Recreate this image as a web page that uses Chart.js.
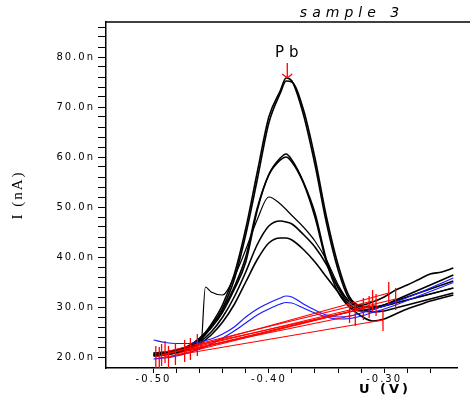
<!DOCTYPE html>
<html>
<head>
<meta charset="utf-8">
<script src="https://cdn.jsdelivr.net/npm/chart.js@4.4.0/dist/chart.umd.min.js"></script>
<style>
  html, body { margin: 0; padding: 0; background: #fff; }
  #wrap { width: 470px; height: 401px; }
</style>
</head>
<body>
<div id="wrap"><canvas id="chart" width="470" height="401"></canvas></div>
<script>
// potential grid (V) shared by the scans
const volts = [-0.50, -0.49, -0.48, -0.47, -0.46, -0.45, -0.44, -0.43, -0.42, -0.41, -0.40, -0.39, -0.385,
               -0.38, -0.37, -0.36, -0.35, -0.34, -0.33, -0.32, -0.31, -0.30, -0.29, -0.28, -0.27, -0.26, -0.25, -0.24];

// black scans (nA)
const scanA = [20.3, 20.5, 21.0, 21.8, 23.5, 26.5, 30.5, 36.5, 45.7, 57.0, 68.0, 73.3, 75.8,
               75.2, 68.5, 58.5, 46.8, 37.5, 31.5, 30.4, 31.0, 32.0, 33.4, 34.4, 35.5, 36.6, 37.0, 37.8];
const scanB = [20.5, 20.7, 21.2, 22.0, 23.3, 26.0, 29.8, 35.5, 44.5, 55.5, 66.8, 72.8, 75.2,
               75.0, 69.5, 59.8, 48.0, 38.5, 32.0, 30.2, 30.0, 30.4, 31.2, 32.0, 32.8, 33.6, 34.4, 35.2];
const scanC = [20.6, 20.8, 21.3, 22.0, 23.5, 25.8, 29.0, 33.5, 39.0, 49.4, 56.5, 59.8, 60.6,
               59.4, 55.0, 48.8, 39.4, 33.8, 30.5, 29.4, 29.6, 30.2, 30.8, 31.4, 32.0, 32.6, 33.2, 33.8];
const scanD = [20.8, 21.0, 21.4, 22.2, 23.8, 26.2, 29.5, 34.0, 40.0, 49.8, 56.4, 59.4, 60.0,
               59.0, 54.8, 48.0, 39.0, 33.0, 30.0, 29.2, 29.6, 30.4, 31.4, 32.4, 33.4, 34.4, 35.4, 36.4];
const scanF = [20.4, 20.6, 21.0, 21.8, 23.0, 25.0, 28.0, 32.0, 37.0, 42.5, 46.2, 47.2, 47.0,
               46.6, 44.5, 42.0, 38.5, 34.0, 31.0, 29.5, 29.0, 29.2, 29.8, 30.4, 31.0, 31.6, 32.2, 32.8];
const scanG = [20.2, 20.4, 20.8, 21.5, 22.6, 24.4, 27.0, 30.5, 35.0, 39.5, 42.8, 43.8, 43.8,
               43.4, 41.5, 39.0, 36.0, 33.0, 30.0, 28.2, 27.2, 27.6, 28.6, 29.6, 30.4, 31.2, 31.8, 32.4];

// scan with the step near -0.46 V has its own grid
const jumpVolts = [-0.50, -0.49, -0.48, -0.47, -0.459, -0.455, -0.45, -0.44, -0.43, -0.42, -0.41, -0.40, -0.39,
                   -0.38, -0.37, -0.36, -0.35, -0.34, -0.33, -0.32, -0.31, -0.30, -0.29, -0.28, -0.27, -0.26, -0.25, -0.24];
const jumpScan = [20.8, 20.8, 21.0, 21.4, 22.0, 34.0, 33.0, 32.4, 36.0, 41.5, 47.5, 52.0, 50.6,
                  48.3, 46.0, 43.2, 39.4, 34.5, 31.0, 30.0, 29.8, 30.2, 30.8, 31.4, 32.0, 32.6, 33.2, 33.8];

// blue scans (nA)
const blueA = [23.4, 22.9, 22.7, 22.7, 23.0, 23.6, 24.6, 26.0, 28.0, 29.6, 30.8, 31.8, 32.2,
               32.0, 30.6, 29.4, 28.4, 28.0, 28.2, 28.8, 29.5, 30.2, 31.0, 31.9, 32.8, 33.8, 34.8, 35.8];
const blueB = [19.6, 19.8, 20.2, 20.8, 21.6, 22.6, 23.8, 25.2, 26.8, 28.4, 29.6, 30.6, 30.9,
               30.8, 29.8, 28.8, 28.0, 27.6, 27.7, 28.2, 28.9, 29.6, 30.4, 31.3, 32.2, 33.1, 34.0, 34.9];

// red baselines: start / end points
const baseStartV = [-0.498, -0.493, -0.481, -0.487, -0.473, -0.468, -0.495, -0.462, -0.490];
const baseStartI = [20.0, 20.4, 20.6, 20.0, 21.2, 21.6, 19.8, 22.4, 21.0];
const baseEndV = [-0.296, -0.290, -0.307, -0.313, -0.330, -0.325, -0.301, -0.318, -0.310];
const baseEndI = [32.8, 31.6, 30.4, 30.0, 29.0, 28.4, 27.4, 29.6, 31.2];

// Pb peak marker
const pbPeak = { x: -0.384, y: 75.8 };

// ticks
const xMajor = [-0.50, -0.40, -0.30];
const yMajor = [20, 30, 40, 50, 60, 70, 80];

const stepTicks = (from, to, step) => {
    const out = [];
    for (let v = from; v <= to + 1e-9; v += step) out.push({ value: +v.toFixed(4) });
    return out;
};
const isMajor = (list, v) => list.some(m => Math.abs(m - v) < 1e-6);

const toPoints = (xs, ys) => xs.map((x, i) => ({ x: x, y: ys[i] }));

const scanLine = (xs, ys, color, width, order) => ({
    data: toPoints(xs, ys),
    borderColor: color,
    borderWidth: width,
    pointRadius: 0,
    cubicInterpolationMode: 'monotone',
    order: order
});

const datasets = [];
[scanA, scanB, scanC, scanD, scanF, scanG].forEach(ys => datasets.push(scanLine(volts, ys, '#000', 1.6, 2)));
datasets.push(scanLine(jumpVolts, jumpScan, '#000', 1.2, 2));
datasets.push(scanLine(volts, blueA, '#1a1aff', 1.2, 1));
datasets.push(scanLine(volts, blueB, '#1a1aff', 1.2, 1));
baseStartV.forEach((v, i) => {
    datasets.push({
        data: [{ x: v, y: baseStartI[i] }, { x: baseEndV[i], y: baseEndI[i] }],
        borderColor: '#ff0000',
        borderWidth: 1.2,
        pointStyle: 'line',
        pointRotation: 90,
        pointRadius: 11,
        pointBorderColor: '#ff0000',
        pointBorderWidth: 1.3,
        order: 0
    });
});

// extra text: title, x title, Pb arrow, letter spacing for tick labels
const decorations = {
    id: 'decorations',
    beforeDraw(chart) {
        chart.ctx.letterSpacing = '2px';
    },
    afterDraw(chart) {
        const { ctx, chartArea, scales } = chart;
        ctx.save();
        // top frame line
        ctx.strokeStyle = '#000';
        ctx.lineWidth = 1.5;
        ctx.beginPath();
        ctx.moveTo(chartArea.left, chartArea.top);
        ctx.lineTo(chart.width, chartArea.top);
        ctx.stroke();

        ctx.fillStyle = '#000';
        ctx.textAlign = 'center';
        ctx.textBaseline = 'middle';
        ctx.letterSpacing = '5px';
        ctx.font = 'italic 14px "DejaVu Sans"';
        ctx.fillText('sample 3', 352, 13);

        ctx.letterSpacing = '3px';
        ctx.font = 'bold 13px "DejaVu Sans"';
        ctx.fillText('U (V)', 385, 390);

        // Pb arrow
        const px = scales.x.getPixelForValue(pbPeak.x);
        const py = scales.y.getPixelForValue(pbPeak.y);
        ctx.strokeStyle = '#ff0000';
        ctx.lineWidth = 1.3;
        ctx.beginPath();
        ctx.moveTo(px, py - 15);
        ctx.lineTo(px, py);
        ctx.moveTo(px - 5, py - 4);
        ctx.lineTo(px, py);
        ctx.lineTo(px + 5, py - 4);
        ctx.stroke();
        ctx.letterSpacing = '5px';
        ctx.font = '15px "DejaVu Sans"';
        ctx.fillStyle = '#000';
        ctx.fillText('Pb', px + 2, py - 25);
        ctx.restore();
        ctx.letterSpacing = '0px';
    }
};

new Chart(document.getElementById('chart'), {
    type: 'line',
    data: { datasets: datasets },
    options: {
        responsive: false,
        animation: false,
        layout: { padding: { top: 22, right: 1, left: 0, bottom: 0 } },
        plugins: { legend: { display: false }, tooltip: { enabled: false } },
        scales: {
            x: {
                type: 'linear',
                min: -0.5412,
                max: -0.2362,
                afterBuildTicks: (scale) => { scale.ticks = stepTicks(-0.50, -0.26, 0.02); },
                afterFit: (scale) => { scale.height = 33; },
                grid: { drawOnChartArea: false, tickLength: 5, tickColor: '#000', tickWidth: 1 },
                border: { display: true, color: '#000', width: 1.5 },
                ticks: {
                    autoSkip: false,
                    maxRotation: 0,
                    padding: 0,
                    color: '#000',
                    font: { family: 'DejaVu Sans', size: 10 },
                    callback: (v) => isMajor(xMajor, v) ? v.toFixed(2) : ''
                }
            },
            y: {
                min: 17.8,
                max: 87,
                afterBuildTicks: (scale) => { scale.ticks = stepTicks(20, 86, 2); },
                afterFit: (scale) => { scale.width = 106; },
                grid: { drawOnChartArea: false, tickLength: 8, tickColor: '#000', tickWidth: 1 },
                border: { display: true, color: '#000', width: 1.5 },
                title: {
                    display: true,
                    text: 'I (nA)',
                    color: '#000',
                    font: { family: 'Liberation Serif', size: 15 },
                    padding: { top: 9, bottom: 0 }
                },
                ticks: {
                    autoSkip: false,
                    padding: 3,
                    color: '#000',
                    font: { family: 'DejaVu Sans', size: 10 },
                    callback: (v) => isMajor(yMajor, v) ? v.toFixed(1) + 'n' : ''
                }
            }
        }
    },
    plugins: [decorations]
});
</script>
</body>
</html>
